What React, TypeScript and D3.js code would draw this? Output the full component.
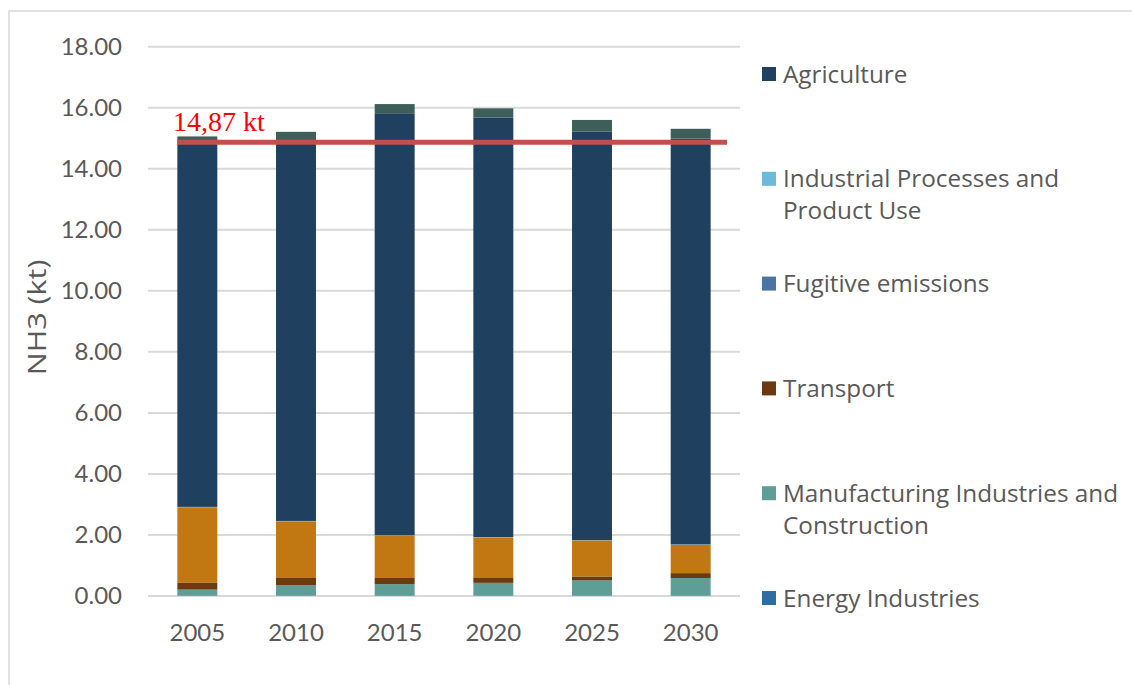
import React, { useRef, useEffect } from "react";
import * as d3 from "d3";

const years = ["2005", "2010", "2015", "2020", "2025", "2030"];

// kt NH3 per sector
const energyIndustries = [0.01, 0.01, 0.01, 0.01, 0.01, 0.01];
const manufacturing = [0.2, 0.34, 0.38, 0.42, 0.5, 0.58];
const transport = [0.22, 0.24, 0.2, 0.16, 0.13, 0.16];
const otherSectors = [2.48, 1.86, 1.39, 1.33, 1.18, 0.93];
const fugitive = [0, 0, 0, 0, 0, 0];
const industrialProcesses = [0.01, 0.01, 0.01, 0.01, 0.01, 0.01];
const agriculture = [11.89, 12.4, 13.83, 13.75, 13.39, 13.3];
const waste = [0.25, 0.35, 0.3, 0.3, 0.38, 0.32];

const yTicks = [0, 2, 4, 6, 8, 10, 12, 14, 16, 18];
const ceiling = 14.87;
const ceilingLabel = "14,87 kt";

const seriesKeys = [
  "Energy Industries",
  "Manufacturing Industries and Construction",
  "Transport",
  "Other Sectors",
  "Fugitive emissions",
  "Industrial Processes and Product Use",
  "Agriculture",
  "Waste",
];
const seriesValues = [
  energyIndustries,
  manufacturing,
  transport,
  otherSectors,
  fugitive,
  industrialProcesses,
  agriculture,
  waste,
];
const colors = {
  "Energy Industries": "#2e6da4",
  "Manufacturing Industries and Construction": "#5f9e97",
  Transport: "#6b3a13",
  "Other Sectors": "#c17712",
  "Fugitive emissions": "#4a74a4",
  "Industrial Processes and Product Use": "#6cb9d9",
  Agriculture: "#1f405f",
  Waste: "#3e5f59",
};

// legend as shown in the picture (top to bottom)
const legendItems = [
  ["Agriculture"],
  ["Industrial Processes and", "Product Use"],
  ["Fugitive emissions"],
  ["Transport"],
  ["Manufacturing Industries and", "Construction"],
  ["Energy Industries"],
];
const legendKeys = [
  "Agriculture",
  "Industrial Processes and Product Use",
  "Fugitive emissions",
  "Transport",
  "Manufacturing Industries and Construction",
  "Energy Industries",
];

const App = () => {
  const ref = useRef(null);

  useEffect(() => {
    const svg = d3.select(ref.current);
    svg.selectAll("*").remove();

    const left = 148, right = 740, top = 46.7, bottom = 596;
    const font = "Lato, 'Open Sans', sans-serif";
    const wide = "'Open Sans', sans-serif";
    const grey = "#595959";

    const rows = years.map((yr, i) => {
      const r = { year: yr };
      seriesKeys.forEach((k, j) => (r[k] = seriesValues[j][i]));
      return r;
    });

    const x = d3.scaleBand().domain(years).range([left, right])
      .paddingInner(0.595).paddingOuter(0.2975);
    const y = d3.scaleLinear().domain([0, 18]).range([bottom, top]);

    // outer frame
    svg.append("rect")
      .attr("x", 9).attr("y", 11)
      .attr("width", 1140).attr("height", 700)
      .attr("fill", "white")
      .attr("stroke", "#d9d9d9").attr("stroke-width", 1.5);

    // gridlines
    svg.append("g").selectAll("line").data(yTicks).join("line")
      .attr("x1", left).attr("x2", right)
      .attr("y1", (d) => y(d)).attr("y2", (d) => y(d))
      .attr("stroke", "#d9d9d9").attr("stroke-width", 2);

    // y tick labels
    svg.append("g").selectAll("text").data(yTicks).join("text")
      .attr("x", 122).attr("y", (d) => y(d))
      .attr("dy", "0.35em")
      .attr("text-anchor", "end")
      .attr("font-family", font).attr("font-size", 24)
      .attr("fill", grey)
      .text((d) => d.toFixed(2));

    // y axis title (stretched along its length like the source image)
    svg.append("text")
      .attr("transform", `translate(37,${(top + bottom) / 2 - 4}) rotate(-90) scale(1.22,1)`)
      .attr("dy", "0.35em")
      .attr("text-anchor", "middle")
      .attr("font-family", wide).attr("font-size", 25)
      .attr("fill", grey)
      .text("NH3 (kt)");

    // stacked bars
    const stacked = d3.stack().keys(seriesKeys)(rows);
    svg.append("g").selectAll("g").data(stacked).join("g")
      .attr("fill", (s) => colors[s.key])
      .selectAll("rect").data((s) => s).join("rect")
      .attr("x", (d) => x(d.data.year))
      .attr("width", x.bandwidth())
      .attr("y", (d) => y(d[1]))
      .attr("height", (d) => Math.max(0, y(d[0]) - y(d[1])));

    // x labels
    svg.append("g").selectAll("text").data(years).join("text")
      .attr("x", (d) => x(d) + x.bandwidth() / 2)
      .attr("y", 633)
      .attr("dy", "0.35em")
      .attr("text-anchor", "middle")
      .attr("font-family", font).attr("font-size", 24)
      .attr("fill", grey)
      .text((d) => d);

    // reference line
    svg.append("line")
      .attr("x1", x(years[0])).attr("x2", 727)
      .attr("y1", y(ceiling)).attr("y2", y(ceiling))
      .attr("stroke", "#c0504d").attr("stroke-width", 5);

    svg.append("text")
      .attr("x", 173).attr("y", 131)
      .attr("font-family", "'Liberation Serif', 'Times New Roman', serif")
      .attr("font-size", 28)
      .attr("fill", "#ff0000")
      .text(ceilingLabel);

    // legend
    const legend = svg.append("g").selectAll("g").data(legendItems).join("g")
      .attr("transform", (d, i) => `translate(762,${74 + i * 104.8})`);
    legend.append("rect")
      .attr("x", 0).attr("y", -7)
      .attr("width", 14).attr("height", 14)
      .attr("fill", (d, i) => colors[legendKeys[i]]);
    legend.append("text")
      .attr("font-family", wide).attr("font-size", 24.3)
      .attr("fill", grey)
      .selectAll("tspan").data((d) => d).join("tspan")
      .attr("x", 21)
      .attr("y", (d, i) => i * 32)
      .attr("dy", "0.35em")
      .text((d) => d);
  }, []);

  return (
    <svg
      ref={ref}
      width={1132}
      height={685}
      style={{ position: "absolute", left: 0, top: 0, background: "white" }}
    />
  );
};

export default App;
